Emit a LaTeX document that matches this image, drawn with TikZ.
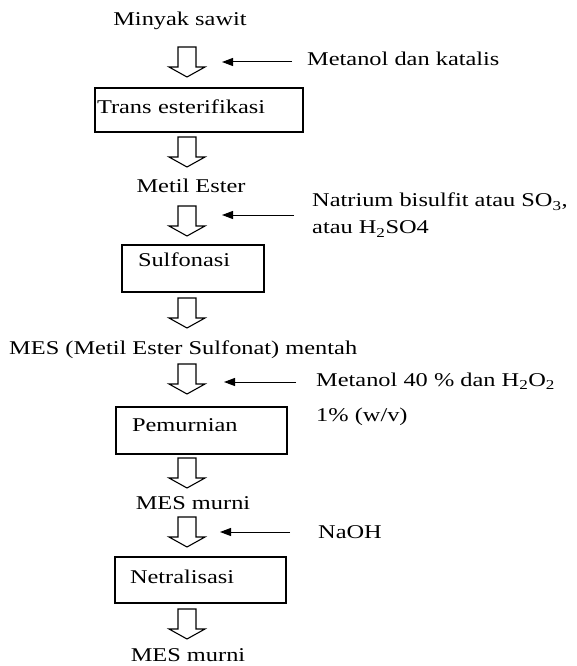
\documentclass[tikz,border=0pt]{standalone}
\usepackage{fontspec}
\setmainfont{Liberation Serif}[FakeStretch=1.25]
\usetikzlibrary{arrows.meta}

\tikzset{
  every node/.style={font=\fontsize{19.5}{24}\selectfont, inner sep=0pt},
  stepbox/.style={draw, line width=1.3pt, rectangle, align=left, text height=13pt, inner ysep=0pt},
  feed/.style={line width=1pt, -{Triangle[length=11pt,width=8pt]}},
  pics/hollow/.style={code={
    \draw[line width=1.1pt] (-9,-15) -- (9,-15) -- (9,5) -- (18,5) -- (0,15) -- (-18,5) -- (-9,5) -- cycle;}}
}

\begin{document}
\begin{tikzpicture}[x=1pt, y=-1pt]
        \useasboundingbox (0,0) rectangle (576,666);
        % main line of the process
        \node[anchor=base] (sawit) at (180,26) {Minyak sawit};
        \node[stepbox, text width=204pt, inner xsep=2pt, minimum height=44pt, text depth=6pt] (trans) at (199,110) {Trans esterifikasi};
        \node[anchor=base] (ester) at (191,192) {Metil Ester};
        \node[stepbox, text width=110pt, inner xsep=16pt, minimum height=47pt, text depth=17pt] (sulfo) at (193,268.5) {Sulfonasi};
        \node[anchor=base west] (mentah) at (9,354) {MES (Metil Ester Sulfonat) mentah};
        \node[stepbox, text width=139pt, inner xsep=16pt, minimum height=47pt, text depth=11pt] (murni) at (201.5,430.5) {Pemurnian};
        \node[anchor=base] (mes1) at (193,509) {MES murni};
        \node[stepbox, text width=141pt, inner xsep=15pt, minimum height=46pt, text depth=6pt] (netral) at (200.5,580) {Netralisasi};
        \node[anchor=base] (mes2) at (188,661) {MES murni};
        % what is added at each step
        \node[anchor=base west] (katalis) at (307,66) {Metanol dan katalis};
        \node[anchor=north west, align=left] (natrium) at (312,193) {Natrium bisulfit atau SO\textsubscript{3},\\[3pt] atau H\textsubscript{2}SO4};
        \node[anchor=north west, align=left] (metanol) at (316,373) {Metanol 40 \% dan H\textsubscript{2}O\textsubscript{2}\\[11pt] 1\% (w/v)};
        \node[anchor=base west] (naoh) at (318,538) {NaOH};
        % block arrows down the line
        \foreach \y [count=\i] in {62,152,221,313,379,473,532,624} {
          \coordinate (a\i) at (187,\y);
          \pic at (a\i) {hollow};
        }
        % feed arrows
        \coordinate (f1) at (222,62);
        \coordinate (f3) at (222,215);
        \coordinate (f5) at (224,382);
        \coordinate (f7) at (220,532);
        \draw[feed, shorten <=15pt] (f1 -| katalis.west) -- (f1);
        \draw[feed, shorten <=18pt] (f3 -| natrium.west) -- (f3);
        \draw[feed, shorten <=20pt] (f5 -| metanol.west) -- (f5);
        \draw[feed, shorten <=28pt] (f7 -| naoh.west) -- (f7);
\end{tikzpicture}
\end{document}
